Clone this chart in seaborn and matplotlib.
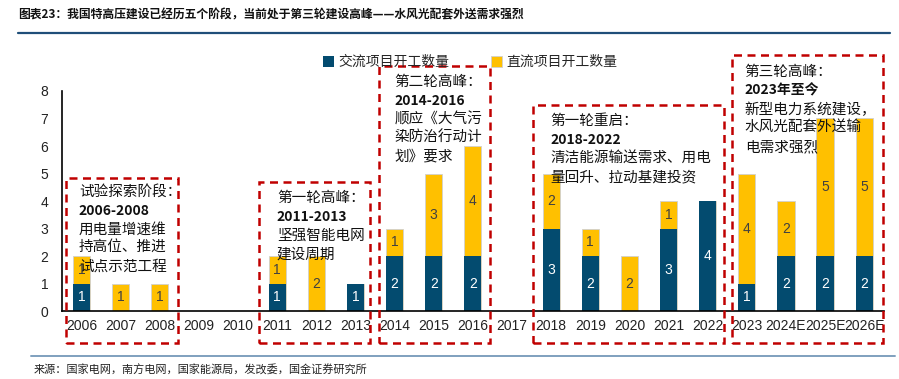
import numpy as np
import matplotlib.pyplot as plt
import seaborn as sns
from matplotlib.patches import Rectangle

# data
years = ["2006", "2007", "2008", "2009", "2010", "2011", "2012", "2013", "2014", "2015", "2016",
         "2017", "2018", "2019", "2020", "2021", "2022", "2023", "2024E", "2025E", "2026E"]
ac_counts = [1, 0, 0, 0, 0, 1, 0, 1, 2, 2, 2, 0, 3, 2, 0, 3, 4, 1, 2, 2, 2]
dc_counts = [1, 1, 1, 0, 0, 1, 2, 0, 1, 3, 4, 0, 2, 1, 2, 1, 0, 4, 2, 5, 5]
ac_label = "交流项目开工数量"
dc_label = "直流项目开工数量"

phase_notes = [
    ["试验探索阶段：", "2006-2008", "用电量增速维", "持高位、推进", "试点示范工程"],
    ["第一轮高峰：", "2011-2013", "坚强智能电网", "建设周期"],
    ["第二轮高峰：", "2014-2016", "顺应《大气污", "染防治行动计", "划》要求"],
    ["第一轮重启：", "2018-2022", "清洁能源输送需求、用电", "量回升、拉动基建投资"],
    ["第三轮高峰：", "2023年至今", "新型电力系统建设，", "水风光配套外送输", "电需求强烈"],
]
title = "图表23：我国特高压建设已经历五个阶段，当前处于第三轮建设高峰——水风光配套外送需求强烈"
source = "来源：国家电网，南方电网，国家能源局，发改委，国金证券研究所"

NAVY = "#034B6F"
GOLD = "#FFC000"
RED = "#C00000"
CJK = ["Noto Sans CJK SC", "DejaVu Sans"]

sns.set_style("white")
plt.rcParams["font.family"] = ["Liberation Sans", "Noto Sans CJK SC", "DejaVu Sans"]

fig = plt.figure(figsize=(8.99, 3.79), dpi=100)
ax = fig.add_axes([0.069, 0.179, 0.914, 0.581])

totals = [a + d for a, d in zip(ac_counts, dc_counts)]
sns.barplot(x=years, y=totals, color=GOLD, saturation=1, width=0.44, ax=ax,
            edgecolor="#d0d0d0", linewidth=0.6, label=dc_label)
sns.barplot(x=years, y=ac_counts, color=NAVY, saturation=1, width=0.44, ax=ax,
            linewidth=0, label=ac_label)
handles, labels = ax.get_legend_handles_labels()
if ax.get_legend() is not None:
    ax.get_legend().remove()

# segment labels
navy_bars = ax.containers[1]
for i, npch in enumerate(navy_bars):
    cx = npch.get_x() + npch.get_width() / 2
    if ac_counts[i] > 0:
        ax.text(cx, ac_counts[i] / 2, str(ac_counts[i]), ha="center", va="center",
                color="white", fontsize=10)
    if dc_counts[i] > 0:
        ax.text(cx, ac_counts[i] + dc_counts[i] / 2, str(dc_counts[i]), ha="center",
                va="center", color="#404040", fontsize=10)

ax.set_xlim(-0.5, 20.5)
ax.set_ylim(0, 8)
ax.set_yticks(range(0, 9))
ax.set_xlabel("")
ax.set_ylabel("")
sns.despine(ax=ax)
for s in ["left", "bottom"]:
    ax.spines[s].set_color("black")
    ax.spines[s].set_linewidth(1.2)
ax.tick_params(axis="x", which="major", length=0, labelsize=10, pad=6, colors="#222222")
ax.set_xticks(np.arange(-0.5, 21, 1), minor=True)
ax.tick_params(axis="x", which="minor", direction="in", length=4, width=1, color="black")
ax.tick_params(axis="y", direction="in", length=4, width=1, labelsize=10, pad=10,
               color="black", labelcolor="#222222")

# dashed phase boxes (x0, x1, y_top) in data units
boxes = [(-0.4, 2.46, 4.84), (4.53, 7.37, 4.69), (7.6, 10.43, 8.9),
         (11.53, 16.43, 7.49), (16.61, 20.47, 9.3)]
y_bottom = -1.16
for x0, x1, yt in boxes:
    ax.add_patch(Rectangle((x0, y_bottom), x1 - x0, yt - y_bottom, fill=False,
                           edgecolor=RED, linewidth=1.8, linestyle=(0, (3.2, 2.2)),
                           clip_on=False, zorder=5))

note_starts = [(-0.07, 4.33), (4.99, 4.11), (8.0, 8.33), (11.99, 6.91), (16.95, 8.69)]
for (tx, ty), lines in zip(note_starts, phase_notes):
    for k, line in enumerate(lines):
        ax.text(tx, ty - k * 0.68, line, ha="left", va="center",
                fontsize=10 if k == 1 else 10.5,
                family=CJK, fontweight="bold" if k == 1 else "normal",
                color="#111111", clip_on=False, zorder=6)

# legend
order = [labels.index(ac_label), labels.index(dc_label)]
fig.legend([handles[i] for i in order], [labels[i] for i in order],
           loc="center", bbox_to_anchor=(0.523, 0.836), ncol=2, frameon=False,
           prop={"family": CJK, "size": 10}, handlelength=0.8, handleheight=0.8,
           handletextpad=0.3, columnspacing=3.0)

# header / footer
fig.text(0.02, 0.96, title, ha="left", va="center", fontsize=8.5, fontweight="bold",
         family=CJK, color="#111111")
fig.add_artist(plt.Line2D([0.02, 0.99], [0.913, 0.913], color="#1F4E79", linewidth=1.6))
fig.add_artist(plt.Line2D([0.035, 0.995], [0.061, 0.061], color="#7FA0BE", linewidth=1.4))
fig.text(0.037, 0.024, source, ha="left", va="center", fontsize=8, family=CJK,
         color="#222222")

fig.savefig("out.png", dpi=100)
